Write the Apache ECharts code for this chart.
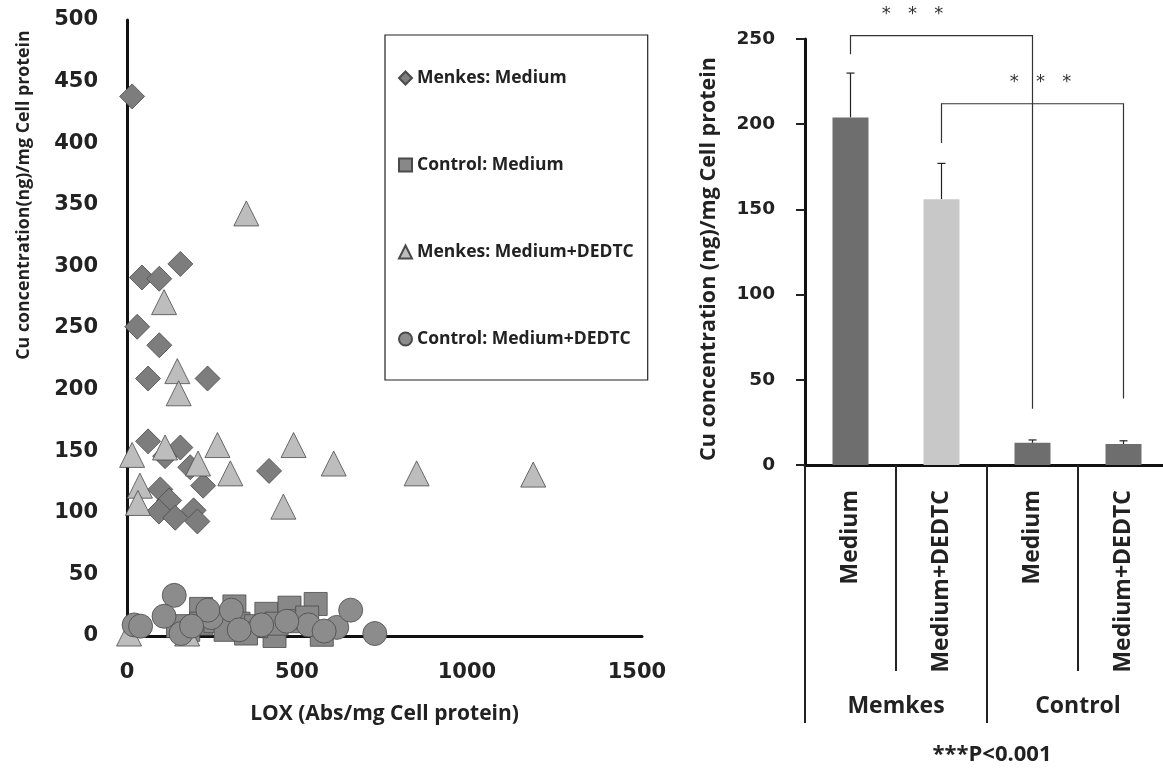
<!DOCTYPE html>
<html><head><meta charset="utf-8">
<script src="https://cdn.jsdelivr.net/npm/echarts@6/dist/echarts.min.js"></script>
<style>html,body{margin:0;padding:0;background:#fff}#c{width:1163px;height:768px}</style>
</head><body><div id="c"></div>
<script>
// ---- Scatter data: [LOX, Cu] ----
const menkesMedium = [[15,438],[44,291],[95,290],[157,302],[30,251],[95,236],[62,209],[237,209],[62,158],[112,146],[157,153],[186,137],[224,122],[418,134],[98,119],[124,110],[94,101],[142,96],[196,102],[207,93]];
const controlMedium = [[218,22],[316,24],[410,18],[478,23],[555,26],[434,0],[573,1],[328,10],[218,10],[260,12],[380,8],[500,12],[180,5],[290,5],[440,10],[150,8],[350,2],[530,15]];
const menkesDEDTC = [[351,343],[109,271],[148,215],[152,197],[15,147],[112,153],[266,155],[490,155],[209,140],[304,132],[608,140],[38,122],[32,108],[460,105],[852,132],[1195,131],[6,2],[177,2]];
const controlDEDTC = [[139,33],[109,16],[21,9],[159,2],[248,15],[238,21],[307,21],[396,9],[534,9],[617,7],[658,21],[729,2],[40,8],[190,8],[330,5],[470,12],[580,4]];
const scatterNames = ['Menkes: Medium','Control: Medium','Menkes: Medium+DEDTC','Control: Medium+DEDTC'];

// ---- Bar data ----
const barCategories = ['Medium','Medium+DEDTC','Medium','Medium+DEDTC'];
const barGroups = ['Memkes','Control'];
const barValues = [204, 156, 13, 12.3];
const barErrors = [230, 177, 14.7, 14.2];
const bracketFrom = [0, 1];
const bracketTo = [2, 3];
const bracketTop = [252, 212];
const bracketLeftEnd = [241, 189];
const bracketRightEnd = [33, 39];
const sigLabel = '*   *   *';

const TXT = '#222';
const chart = echarts.init(document.getElementById('c'), null, {renderer:'canvas'});
const boldText = (size, fam) => ({fontSize:size, fontWeight:'bold', fontFamily:fam||'Open Sans', color:TXT});

const sym = ['diamond','rect','triangle','circle'];
const symSize = [25, 23, 25, 24];
const symColor = ['#7d7d7d','#888888','#bdbdbd','#8c8c8c'];
const scatterData = [menkesMedium, controlMedium, menkesDEDTC, controlDEDTC];

const option = {
  animation:false,
  backgroundColor:'#fff',
  grid:[
    {left:127, top:20, width:515, height:616, outerBoundsMode:'none'},
    {left:805, top:39, width:364, height:426, outerBoundsMode:'none'}
  ],
  legend:{
    data:scatterNames, orient:'vertical', left:385, top:35,
    padding:[33,14,31,13], itemGap:67, itemWidth:13, itemHeight:13,
    borderColor:'#222', borderWidth:1.2, selectedMode:false,
    textStyle:Object.assign(boldText(17.5), {lineHeight:20})
  },
  xAxis:[
    {type:'value', gridIndex:0, min:0, max:1515, interval:500,
     axisLine:{show:true, lineStyle:{color:'#111', width:3}},
     axisTick:{show:false}, splitLine:{show:false},
     axisLabel:Object.assign(boldText(21,'DejaVu Sans'), {margin:26, showMaxLabel:false, formatter:(v)=>String(v)}),
     name:'LOX (Abs/mg Cell protein)', nameLocation:'middle', nameGap:68,
     nameTextStyle:boldText(21)},
    {type:'category', gridIndex:1, data:barCategories,
     axisLine:{show:true, lineStyle:{color:'#111', width:3}},
     axisTick:{show:true, length:206, lineStyle:{color:'#222', width:2}},
     axisLabel:Object.assign(boldText(23), {rotate:90, margin:25, interval:0})},
    {type:'category', gridIndex:1, data:barGroups, position:'bottom',
     axisLine:{show:false},
     axisTick:{show:true, length:258, lineStyle:{color:'#222', width:2}},
     axisLabel:Object.assign(boldText(23), {margin:230, interval:0})}
  ],
  yAxis:[
    {type:'value', gridIndex:0, min:0, max:500, interval:50,
     axisLine:{show:true, lineStyle:{color:'#111', width:3}},
     axisTick:{show:false}, splitLine:{show:false},
     axisLabel:Object.assign(boldText(21,'DejaVu Sans'), {margin:29})},
    {type:'value', gridIndex:1, min:0, max:250, interval:50,
     axisLine:{show:true, lineStyle:{color:'#111', width:3}},
     axisTick:{show:true, length:9, lineStyle:{color:'#222', width:2}},
     splitLine:{show:false},
     axisLabel:Object.assign(boldText(18.5,'DejaVu Sans'), {margin:30})}
  ],
  graphic:[
    {type:'text', x:24, y:195, rotation:Math.PI/2,
     style:{text:'Cu concentration(ng)/mg Cell protein', align:'center', verticalAlign:'middle',
            fontSize:17.8, fontWeight:'bold', fontFamily:'Open Sans', fill:TXT}},
    {type:'text', x:709, y:259, rotation:Math.PI/2,
     style:{text:'Cu concentration (ng)/mg Cell protein', align:'center', verticalAlign:'middle',
            fontSize:21.5, fontWeight:'bold', fontFamily:'Open Sans', fill:TXT}},
    {type:'text', x:992, y:755,
     style:{text:'***P<0.001', align:'center', verticalAlign:'middle',
            fontSize:22, fontWeight:'bold', fontFamily:'Open Sans', fill:TXT}}
  ],
  series: scatterNames.map((n,i)=>({
    type:'scatter', name:n, xAxisIndex:0, yAxisIndex:0,
    symbol:sym[i], symbolSize:symSize[i], data:scatterData[i],
    itemStyle:{color:symColor[i], borderColor:'#4a4a4a', borderWidth:0.8, opacity:1}
  })).concat([
    {type:'bar', xAxisIndex:1, yAxisIndex:1, barWidth:36,
     data:barValues.map((v,i)=>({value:v, itemStyle:{color: i===1 ? '#c8c8c8' : '#6e6e6e'}}))},
    {type:'custom', xAxisIndex:1, yAxisIndex:1,
     data:barErrors.map((e,i)=>[i, barValues[i], e]),
     renderItem:(params, api)=>{
       const p0 = api.coord([api.value(0), api.value(1)]);
       const p1 = api.coord([api.value(0), api.value(2)]);
       const st = {stroke:'#222', lineWidth:1.2};
       return {type:'group', children:[
         {type:'line', shape:{x1:p0[0], y1:p0[1], x2:p1[0], y2:p1[1]}, style:st},
         {type:'line', shape:{x1:p1[0]-4, y1:p1[1], x2:p1[0]+4, y2:p1[1]}, style:st}
       ]};
     }},
    {type:'custom', xAxisIndex:1, yAxisIndex:1,
     data:bracketFrom.map((f,i)=>[f, bracketTop[i], bracketTo[i], bracketLeftEnd[i], bracketRightEnd[i]]),
     renderItem:(params, api)=>{
       const a = api.coord([api.value(0), api.value(1)]);
       const b = api.coord([api.value(2), api.value(1)]);
       const aEnd = api.coord([api.value(0), api.value(3)]);
       const bEnd = api.coord([api.value(2), api.value(4)]);
       const mid = (a[0]+b[0])/2 + (params.dataIndex===0 ? -29 : 8);
       return {type:'group', children:[
         {type:'polyline', shape:{points:[[a[0],aEnd[1]],[a[0],a[1]],[b[0],b[1]],[b[0],bEnd[1]]]},
          style:{stroke:'#333', lineWidth:1.2, fill:null}},
         {type:'text', x:mid, y:a[1]-21,
          style:{text:sigLabel, align:'center', verticalAlign:'middle', fontSize:18, fontFamily:'DejaVu Sans', fill:'#333'}}
       ]};
     }}
  ])
};
chart.setOption(option);
</script></body></html>
